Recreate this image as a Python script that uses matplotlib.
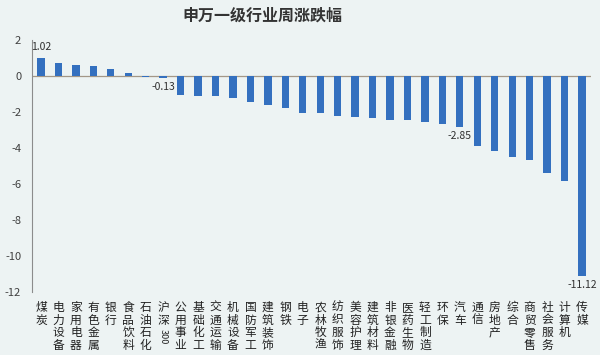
import matplotlib
matplotlib.use("Agg")
import matplotlib.pyplot as plt
from matplotlib.transforms import blended_transform_factory

plt.rcParams['font.family'] = ['Noto Sans CJK SC', 'DejaVu Sans']

categories = ["煤炭", "电力设备", "家用电器", "有色金属", "银行", "食品饮料", "石油石化", "沪深300",
              "公用事业", "基础化工", "交通运输", "机械设备", "国防军工", "建筑装饰", "钢铁", "电子",
              "农林牧渔", "纺织服饰", "美容护理", "建筑材料", "非银金融", "医药生物", "轻工制造", "环保",
              "汽车", "通信", "房地产", "综合", "商贸零售", "社会服务", "计算机", "传媒"]
values = [1.02, 0.73, 0.62, 0.57, 0.38, 0.16, -0.05, -0.13,
          -1.07, -1.10, -1.12, -1.21, -1.43, -1.60, -1.80, -2.03,
          -2.05, -2.20, -2.26, -2.35, -2.45, -2.47, -2.54, -2.65,
          -2.85, -3.89, -4.15, -4.50, -4.67, -5.41, -5.81, -11.12]
labelled = {0: "1.02", 7: "-0.13", 24: "-2.85", 31: "-11.12"}
yticks = [2, 0, -2, -4, -6, -8, -10, -12]
title = "申万一级行业周涨跌幅"

bg = '#edf3f3'
fig = plt.figure(figsize=(6, 3.55), dpi=100, facecolor=bg)
ax = fig.add_axes([0.0538, 0.1775, 0.9307, 0.7099], facecolor=bg)

x = list(range(len(categories)))
ax.bar(x, values, width=0.42, color='#3470bf', zorder=2)
ax.axhline(0, color='#a39787', lw=0.9, zorder=1)

ax.set_xlim(-0.5, len(categories) - 0.5)
ax.set_ylim(-12, 2)
ax.set_yticks(yticks)
ax.set_yticklabels([str(t) for t in yticks], fontsize=8, color='#404040')
ax.tick_params(axis='y', length=0, pad=8)
ax.set_xticks([])
for s in ['top', 'right', 'bottom']:
    ax.spines[s].set_visible(False)
ax.spines['left'].set_color('#8c8c8c')
ax.spines['left'].set_linewidth(0.8)

trans = blended_transform_factory(ax.transData, ax.transAxes)
for i, c in enumerate(categories):
    if c == "沪深300":
        ax.text(i, -0.036, "沪\n深", transform=trans, ha='center', va='top',
                fontsize=8.5, linespacing=0.95, color='#222222')
        ax.text(i, -0.145, "300", transform=trans, ha='center', va='top',
                fontsize=6.5, rotation=-90, color='#222222')
    else:
        ax.text(i, -0.036, "\n".join(c), transform=trans, ha='center', va='top',
                fontsize=8.5, linespacing=0.95, color='#222222')

for i, txt in labelled.items():
    v = values[i]
    if v >= 0:
        ax.annotate(txt, (i, v), xytext=(0, 4), textcoords='offset points',
                    ha='center', va='bottom', fontsize=7.5, color='#303030')
    else:
        ax.annotate(txt, (i, v), xytext=(0, -3), textcoords='offset points',
                    ha='center', va='top', fontsize=7.5, color='#303030')

fig.text(262 / 600, 1 - 16 / 355, title, ha='center', va='center', fontsize=11.5,
         fontweight='bold', color='#333333')

fig.savefig('out.png', dpi=100, facecolor=bg)
